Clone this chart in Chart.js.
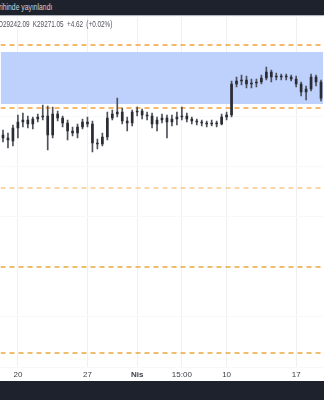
<!DOCTYPE html>
<html>
<head>
<meta charset="utf-8">
<script src="https://cdn.jsdelivr.net/npm/chart.js@4"></script>
<style>
  html, body { margin: 0; padding: 0; background: #fff; overflow: hidden; }
  body { width: 324px; height: 400px; position: relative; font-family: 'Liberation Sans', Arial, sans-serif; }
  .topbar { position: absolute; left: 0; top: 0; width: 324px; height: 15px; background: #1e222d; border-bottom: 1px solid #b2b5be; }
  .topbar span { position: absolute; left: -1px; top: 2px; font-size: 8.5px; color: #d1d4dc; white-space: nowrap; transform: scaleX(0.8); transform-origin: left; }
  .ohlc { position: absolute; left: -2px; top: 19px; font-size: 8.5px; color: #50535e; white-space: nowrap; transform: scaleX(0.75); transform-origin: left; z-index: 2; word-spacing: 2px; }
  .bottombar { position: absolute; left: 0; top: 381px; width: 324px; height: 19px; background: #1e222d; }
  #wrap { position: absolute; left: 0; top: 16px; width: 324px; height: 365px; }
</style>
</head>
<body>
<div class="topbar"><span>rihinde yayınlandı</span></div>
<div class="ohlc">O29242.09 K29271.05 +4.62 (+0.02%)</div>
<div id="wrap"><canvas id="priceChart"></canvas></div>
<div class="bottombar"></div>
<script>
// 12h candles, Mar 18 -> Apr 19
const opens = [27800, 27680, 27560, 28080, 28320, 28400, 28240, 28440, 28520, 28560,
  27800, 28640, 28480, 28280, 27960, 27880, 28120, 28320, 28240, 27480,
  27440, 27720, 28480, 28640, 28720, 28360, 28280, 28720, 28760, 28600,
  28560, 28240, 28400, 28480, 28320, 28440, 28520, 28560, 28440, 28360,
  28320, 28280, 28240, 28280, 28240, 28520, 28600, 29840, 29960, 30000,
  29840, 29880, 29920, 30080, 30320, 30120, 30160, 30120, 30120, 30040,
  29840, 29520, 29640, 30120, 29920];
const closes = [27680, 27600, 28080, 28320, 28400, 28240, 28440, 28520, 28560, 27800,
  28640, 28480, 28280, 27960, 27880, 28120, 28320, 28240, 27480, 27440,
  27720, 28480, 28640, 28720, 28360, 28280, 28720, 28760, 28600, 28560,
  28240, 28400, 28480, 28320, 28440, 28520, 28560, 28440, 28360, 28320,
  28280, 28240, 28280, 28240, 28520, 28600, 29840, 29960, 30000, 29840,
  29880, 29920, 30080, 30320, 30120, 30160, 30120, 30120, 30040, 29840,
  29520, 29640, 30120, 29920, 29271];
const highs = [28000, 27880, 28200, 28600, 28680, 28560, 28520, 28640, 29000, 28960,
  28920, 28760, 28560, 28400, 28120, 28240, 28440, 28520, 28360, 27640,
  27880, 28720, 28800, 29280, 28880, 28520, 28800, 28920, 28840, 28720,
  28680, 28520, 28640, 28600, 28600, 28720, 28920, 28680, 28520, 28440,
  28400, 28360, 28400, 28360, 28640, 28720, 29960, 30120, 30200, 30160,
  30040, 30040, 30200, 30520, 30400, 30280, 30240, 30240, 30200, 30160,
  29920, 29760, 30240, 30200, 30000];
const lows = [27520, 27280, 27360, 27680, 28120, 28080, 28040, 28320, 28400, 27200,
  27680, 28360, 28120, 27600, 27760, 27680, 28040, 28120, 27120, 27240,
  27360, 27600, 28400, 28520, 28240, 27960, 28160, 28560, 28440, 28400,
  28080, 27960, 28280, 27680, 28160, 28200, 28400, 28320, 28240, 28200,
  28160, 28120, 28160, 28120, 28200, 28400, 28520, 29720, 29800, 29680,
  29680, 29720, 29840, 30000, 29920, 30000, 30000, 30000, 29960, 29720,
  29360, 29200, 29560, 29760, 29160];

// x-axis labels (candle index -> text)
const tickIndex = [3, 17, 27, 36, 45, 59];
const tickLabels = ['20', '27', 'Nis', '15:00', '10', '17'];

// horizontal levels and the shaded zone
const levelValues = [31400, 28880, 25680, 22520, 19080];
const levelColors = ['#f2a33a', '#f2a33a', '#f7c98a', '#e9a93c', '#e9a93c'];
const zoneTop = 31120;
const zoneBottom = 29040;

const categories = opens.map((_, i) => i);

const levelSets = levelValues.map((v, i) => ({
  type: 'line',
  xAxisID: 'xl',
  data: [{x: 0, y: v}, {x: 1, y: v}],
  borderColor: levelColors[i],
  borderWidth: 1.5,
  borderDash: [5, 4],
  pointRadius: 0,
  order: 2
}));

const chart = new Chart(document.getElementById('priceChart'), {
  type: 'bar',
  data: {
    labels: categories,
    datasets: [
      {
        data: lows.map((l, i) => [l, highs[i]]),
        backgroundColor: '#4e515a',
        barThickness: 1,
        grouped: false,
        order: 1
      },
      {
        data: opens.map((o, i) => [o, closes[i]]),
        backgroundColor: '#2a2c33',
        barThickness: 2,
        minBarLength: 1,
        grouped: false,
        order: 0
      },
      {
        type: 'line',
        xAxisID: 'xl',
        data: [{x: 0, y: zoneTop}, {x: 1, y: zoneTop}],
        borderWidth: 0,
        pointRadius: 0,
        backgroundColor: 'rgba(190, 208, 252, 1)',
        fill: '+1',
        order: 3
      },
      {
        type: 'line',
        xAxisID: 'xl',
        data: [{x: 0, y: zoneBottom}, {x: 1, y: zoneBottom}],
        borderWidth: 0,
        pointRadius: 0,
        fill: false,
        order: 3
      },
      ...levelSets
    ]
  },
  options: {
    responsive: true,
    maintainAspectRatio: false,
    animation: false,
    layout: { padding: 0 },
    scales: {
      x: {
        offset: true,
        afterFit: function(scale) { scale.height = 14; },
        border: { display: false },
        grid: {
          offset: false,
          drawTicks: false,
          color: function(ctx) { return tickIndex.includes(ctx.index) ? '#eef0f4' : 'rgba(0,0,0,0)'; }
        },
        ticks: {
          autoSkip: false,
          maxRotation: 0,
          padding: 3,
          color: '#3a3d46',
          font: function(ctx) {
            const lbl = ctx.tick ? ctx.tick.label : '';
            return { family: "'Liberation Sans Narrow', 'Liberation Sans'", size: 8, weight: lbl === 'Nis' ? 'bold' : 'normal' };
          },
          callback: function(value, index) {
            const k = tickIndex.indexOf(index);
            return k >= 0 ? tickLabels[k] : '';
          }
        }
      },
      xl: {
        type: 'linear',
        display: false,
        offset: false,
        grid: { offset: false },
        min: 0,
        max: 1
      },
      y: {
        min: 18520,
        max: 32560,
        afterFit: function(scale) { scale.width = 0; },
        border: { display: false },
        grid: { color: '#f7f8fa', drawTicks: false },
        ticks: { display: false, stepSize: 2000 }
      }
    },
    plugins: {
      legend: { display: false },
      tooltip: { enabled: false }
    }
  }
});
</script>
</body>
</html>
